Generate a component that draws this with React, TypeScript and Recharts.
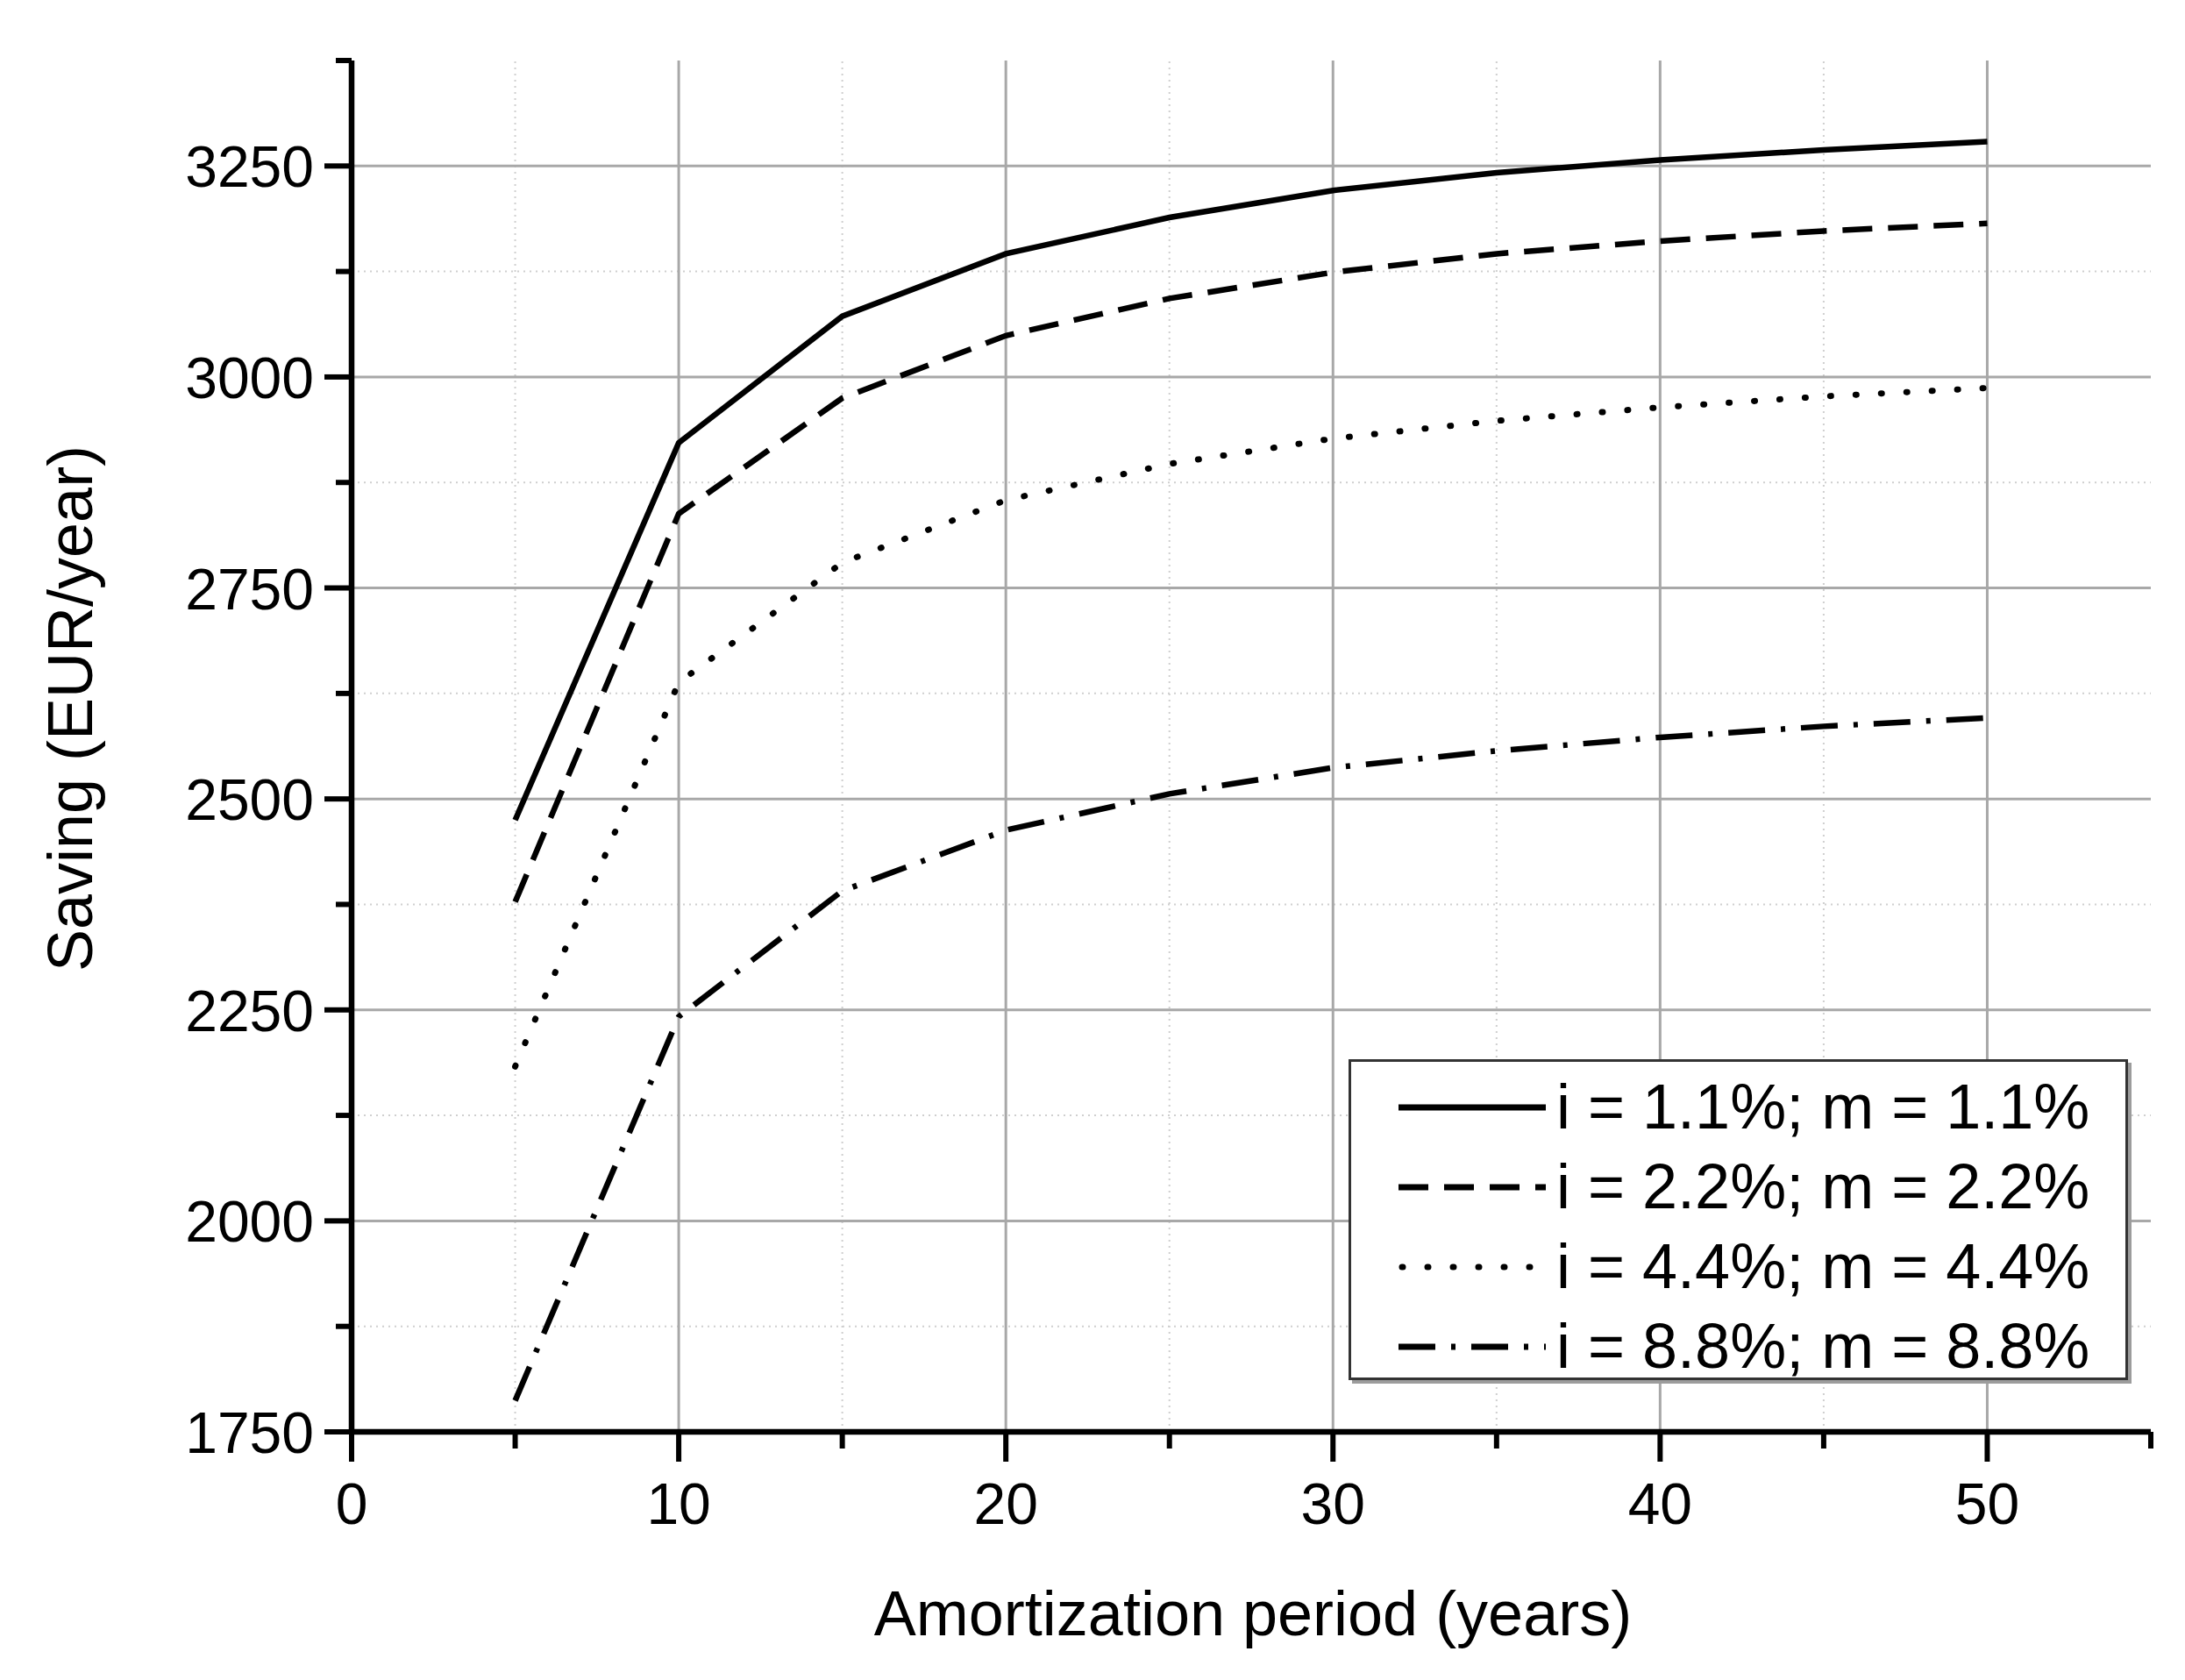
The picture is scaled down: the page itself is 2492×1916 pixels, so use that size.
import React from 'react';
import { LineChart, Line, XAxis, YAxis, ReferenceLine, Legend, Label } from 'recharts';

// amortization period (years)
const years = [5, 10, 15, 20, 25, 30, 35, 40, 45, 50];

// saving (EUR/year) per interest scenario
const saving11 = [2475, 2922, 3072, 3146, 3189, 3221, 3242, 3257, 3269, 3279];
const saving22 = [2378, 2838, 2975, 3049, 3093, 3124, 3146, 3161, 3173, 3182];
const saving44 = [2183, 2638, 2780, 2854, 2897, 2927, 2948, 2964, 2977, 2987];
const saving88 = [1787, 2242, 2391, 2463, 2506, 2537, 2557, 2573, 2586, 2596];

const seriesNames = ['i = 1.1%; m = 1.1%', 'i = 2.2%; m = 2.2%', 'i = 4.4%; m = 4.4%', 'i = 8.8%; m = 8.8%'];

const xTicks = [0, 5, 10, 15, 20, 25, 30, 35, 40, 45, 50, 55];
const yTicks = [1750, 1875, 2000, 2125, 2250, 2375, 2500, 2625, 2750, 2875, 3000, 3125, 3250, 3375];

const xMajorGrid = [10, 20, 30, 40, 50];
const xMinorGrid = [5, 15, 25, 35, 45];
const yMajorGrid = [2000, 2250, 2500, 2750, 3000, 3250];
const yMinorGrid = [1875, 2125, 2375, 2625, 2875, 3125];

const data = years.map((year, i) => ({
  year,
  s11: saving11[i],
  s22: saving22[i],
  s44: saving44[i],
  s88: saving88[i],
}));

const FONT = '"Liberation Sans", Arial, sans-serif';

const styles = [
  { key: 's11', dash: undefined, cap: 'butt' },
  { key: 's22', dash: '34 18', cap: 'butt' },
  { key: 's44', dash: '1 28', cap: 'round' },
  { key: 's88', dash: '42 18 5 18', cap: 'butt' },
];

const XTick = (props: any) => {
  const { x, y, payload } = props;
  const major = payload.value % 10 === 0;
  return (
    <g>
      <line x1={x} x2={x} y1={y} y2={y + (major ? 34 : 19)} stroke="#000" strokeWidth={6} />
      {major && (
        <text x={x} y={y + 105} textAnchor="middle" fontSize={66} fontFamily={FONT} fill="#000">
          {payload.value}
        </text>
      )}
    </g>
  );
};

const YTick = (props: any) => {
  const { x, y, payload } = props;
  const major = (payload.value - 1750) % 250 === 0;
  return (
    <g>
      <line x1={x} x2={x - (major ? 31 : 18)} y1={y} y2={y} stroke="#000" strokeWidth={6} />
      {major && (
        <text x={x - 43} y={y + 24} textAnchor="end" fontSize={66} fontFamily={FONT} fill="#000">
          {payload.value}
        </text>
      )}
    </g>
  );
};

const LegendBox = () => (
  <div
    style={{
      width: 889,
      height: 366,
      boxSizing: 'border-box',
      border: '3px solid #333',
      background: '#fff',
      boxShadow: '4px 4px 0 #9c9c9c',
      paddingTop: 6,
      fontFamily: FONT,
      color: '#000',
    }}
  >
    {seriesNames.map((name, i) => (
      <div key={name} style={{ height: 91, display: 'flex', alignItems: 'center' }}>
        <svg width={168} height={20} style={{ marginLeft: 54, flex: 'none' }}>
          <line
            x1={styles[i].cap === 'round' ? 4 : 0}
            x2={168}
            y1={10}
            y2={10}
            stroke="#000"
            strokeWidth={7}
            strokeDasharray={styles[i].dash}
            strokeLinecap={styles[i].cap as any}
          />
        </svg>
        <span style={{ marginLeft: 12, fontSize: 72, lineHeight: '91px', whiteSpace: 'nowrap' }}>{name}</span>
      </div>
    ))}
  </div>
);

const App: React.FC = () => {
  return (
    <div style={{ position: 'absolute', left: 0, top: 0, background: '#fff' }}>
      <LineChart width={2492} height={1916} data={data} margin={{ top: 69, right: 39, bottom: 0, left: 0 }}>
        {yMinorGrid.map((v) => (
          <ReferenceLine key={`ym${v}`} y={v} stroke="#cfcfcf" strokeWidth={2} strokeDasharray="2 5" />
        ))}
        {xMinorGrid.map((v) => (
          <ReferenceLine key={`xm${v}`} x={v} stroke="#cfcfcf" strokeWidth={2} strokeDasharray="2 5" />
        ))}
        {yMajorGrid.map((v) => (
          <ReferenceLine key={`yM${v}`} y={v} stroke="#a8a8a8" strokeWidth={3} />
        ))}
        {xMajorGrid.map((v) => (
          <ReferenceLine key={`xM${v}`} x={v} stroke="#a8a8a8" strokeWidth={3} />
        ))}
        <XAxis
          type="number"
          dataKey="year"
          domain={[0, 55]}
          ticks={xTicks}
          interval={0}
          tickSize={0}
          tickMargin={0}
          tickLine={false}
          height={283}
          axisLine={{ stroke: '#000', strokeWidth: 6.5 }}
          tick={(p: any) => <XTick {...p} />}
        >
          <Label
            content={(p: any) => {
              const vb = p.viewBox;
              return (
                <text x={vb.x + vb.width / 2 + 2} y={vb.y + 232} textAnchor="middle" fontSize={72} fontFamily={FONT} fill="#000">
                  Amortization period (years)
                </text>
              );
            }}
          />
        </XAxis>
        <YAxis
          type="number"
          domain={[1750, 3375]}
          ticks={yTicks}
          interval={0}
          width={401}
          tickSize={0}
          tickMargin={0}
          tickLine={false}
          axisLine={{ stroke: '#000', strokeWidth: 6.5 }}
          tick={(p: any) => <YTick {...p} />}
        >
          <Label
            content={(p: any) => {
              const vb = p.viewBox;
              const cx = 80;
              const cy = vb.y + vb.height / 2 - 43;
              return (
                <text
                  x={cx}
                  y={cy}
                  dy="0.35em"
                  transform={`rotate(-90, ${cx}, ${cy})`}
                  textAnchor="middle"
                  fontSize={72}
                  fontFamily={FONT}
                  fill="#000"
                >
                  Saving (EUR/year)
                </text>
              );
            }}
          />
        </YAxis>
        {styles.map((s) => (
          <Line
            key={s.key}
            type="linear"
            dataKey={s.key}
            stroke="#000"
            strokeWidth={s.cap === 'round' ? 7 : 6.5}
            strokeDasharray={s.dash}
            strokeLinecap={s.cap as any}
            dot={false}
            activeDot={false}
            isAnimationActive={false}
          />
        ))}
        <Legend
          layout="vertical"
          align="center"
          verticalAlign="middle"
          wrapperStyle={{ position: 'absolute', left: 1538, top: 1208, width: 'auto', height: 'auto' }}
          content={() => <LegendBox />}
        />
      </LineChart>
    </div>
  );
};

export default App;
